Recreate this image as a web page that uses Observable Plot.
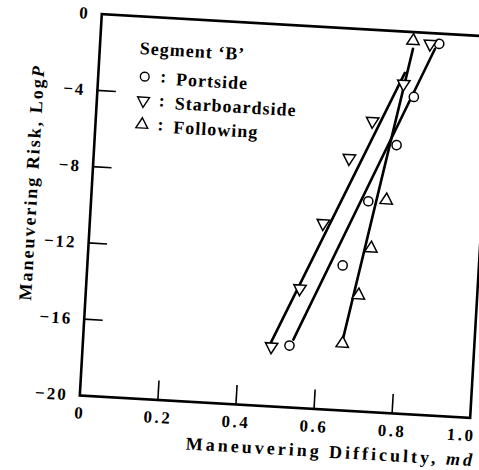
<!DOCTYPE html>
<html>
<head>
<meta charset="utf-8">
<script src="https://cdn.jsdelivr.net/npm/d3@7"></script>
<script src="https://cdn.jsdelivr.net/npm/@observablehq/plot@0.6"></script>
<style>
  html, body { margin: 0; padding: 0; background: #fff; overflow: hidden; width: 479px; height: 470px; }
  #chart { position: relative; width: 479px; height: 470px; overflow: hidden; }
</style>
</head>
<body>
<div id="chart"></div>
<script>
// ---- data ----
const seriesNames = ["Portside", "Starboardside", "Following"];

const portMd   = [0.866, 0.809, 0.772, 0.708, 0.652, 0.528];
const portLogP = [-0.54, -3.39, -5.96, -8.98, -12.41, -16.76];

const starMd   = [0.843, 0.781, 0.707, 0.653, 0.596, 0.546, 0.482];
const starLogP = [-0.57, -2.74, -4.78, -6.79, -10.27, -13.75, -16.87];

const followMd   = [0.799, 0.754, 0.722, 0.697, 0.663];
const followLogP = [-0.46, -8.87, -11.43, -13.92, -16.49];

// fitted straight lines (end points)
const portFitMd     = [0.537, 0.856];
const portFitLogP   = [-16.44, -0.81];
const starFitMd     = [0.479, 0.7825];
const starFitLogP   = [-16.72, -2.16];
const followFitMd   = [0.6625, 0.7997];
const followFitLogP = [-16.38, -0.88];

const xTickValues = [0, 0.2, 0.4, 0.6, 0.8, 1.0];
const yTickValues = [0, -4, -8, -12, -16, -20];
const xInnerTicks = [0.2, 0.4, 0.6, 0.8];
const yInnerTicks = [-4, -8, -12, -16];

const legendTitle = "Segment \u2018B\u2019";
const xTitleParts = ["Maneuvering Difficulty, ", "md"];
const yTitleParts = ["Maneuvering Risk, Log", "P"];

// ---- build tables ----
const zip = (xs, ys, s) => xs.map((x, i) => ({md: x, logP: ys[i], series: s}));
const points = [
  ...zip(portMd, portLogP, seriesNames[0]),
  ...zip(starMd, starLogP, seriesNames[1]),
  ...zip(followMd, followLogP, seriesNames[2])
];
const fits = [
  zip(portFitMd, portFitLogP, seriesNames[0]),
  zip(starFitMd, starFitLogP, seriesNames[1]),
  zip(followFitMd, followFitLogP, seriesNames[2])
];
const symbolOf = {Portside: "circle", Starboardside: "triangle", Following: "triangle"};
const rotateOf = {Portside: 0, Starboardside: 180, Following: 0};

// ---- layout ----
const W = 520, H = 480;
const mL = 88, mT = 23, mR = 41, mB = 75;
const fw = W - mL - mR, fh = H - mT - mB;
const font = "'Liberation Serif', 'DejaVu Serif', serif";

const marks = [
  Plot.frame({stroke: "black", strokeWidth: 2.6}),
  Plot.tickX(xInnerTicks, {x: d => d, insetTop: fh - 19, stroke: "black", strokeWidth: 1.6}),
  Plot.tickY(yInnerTicks, {y: d => d, insetRight: fw - 19, stroke: "black", strokeWidth: 1.6}),
  Plot.axisX({ticks: xTickValues, tickSize: 0, tickPadding: 11, label: null, dx: 1,
    tickFormat: d => d === 0 ? "0" : d.toFixed(1), fontSize: 17, fontWeight: "bold"}),
  Plot.axisY({ticks: yTickValues, tickSize: 0, tickPadding: 12, label: null,
    tickFormat: d => d === 0 ? "0" : "\u2212" + Math.abs(d), fontSize: 17, fontWeight: "bold"}),
  ...fits.map(f => Plot.line(f, {x: "md", y: "logP", stroke: "black", strokeWidth: 2.6})),
  ...seriesNames.map(s => Plot.dot(points.filter(p => p.series === s), {
    x: "md", y: "logP", symbol: symbolOf[s], rotate: rotateOf[s], r: 4.6,
    fill: "white", stroke: "black", strokeWidth: 1.5
  })),
  // legend
  Plot.text([legendTitle], {frameAnchor: "top-left", dx: 40, dy: 32, textAnchor: "start",
    lineAnchor: "middle", fontSize: 18, fontWeight: "bold"}),
  ...seriesNames.flatMap((s, i) => [
    Plot.dot([s], {frameAnchor: "top-left", dx: 46.5, dy: 60 + 24 * i, symbol: symbolOf[s],
      rotate: rotateOf[s], r: 4.4, fill: "white", stroke: "black", strokeWidth: 1.4}),
    Plot.text([":"], {frameAnchor: "top-left", dx: 65, dy: 59 + 24 * i, textAnchor: "middle",
      lineAnchor: "middle", fontSize: 18, fontWeight: "bold"}),
    Plot.text([s], {frameAnchor: "top-left", dx: 78, dy: 61 + 24 * i, textAnchor: "start",
      lineAnchor: "middle", fontSize: 18, fontWeight: "bold"})
  ]),
  // axis titles
  Plot.text([xTitleParts.join("")], {frameAnchor: "bottom", dx: 58, dy: 42, textAnchor: "middle",
    lineAnchor: "middle", fontSize: 18, fontWeight: "bold"}),
  Plot.text([yTitleParts.join("")], {frameAnchor: "left", dx: -60, dy: -19, rotate: -90,
    textAnchor: "middle", lineAnchor: "middle", fontSize: 18, fontWeight: "bold"})
];

const svg = Plot.plot({
  width: W, height: H,
  marginLeft: mL, marginTop: mT, marginRight: mR, marginBottom: mB,
  x: {domain: [0, 1]},
  y: {domain: [-20, 0]},
  style: {fontFamily: font, fontWeight: "bold", fontSize: "17px", color: "black", background: "white"},
  marks
});

// letter spacing & italics
const ns = "http://www.w3.org/2000/svg";
function italicTail(el, parts, spacing) {
  el.textContent = "";
  const a = document.createElementNS(ns, "tspan"); a.textContent = parts[0];
  const b = document.createElementNS(ns, "tspan"); b.textContent = parts[1];
  b.setAttribute("font-style", "italic");
  el.appendChild(a); el.appendChild(b);
  el.style.letterSpacing = spacing;
}
svg.querySelectorAll("text").forEach(t => {
  const c = t.textContent;
  if (c === xTitleParts.join("")) italicTail(t, xTitleParts, "3px");
  else if (c === yTitleParts.join("")) italicTail(t, yTitleParts, "2px");
  else if (seriesNames.includes(c) || c === legendTitle) t.style.letterSpacing = "1px";
});
svg.querySelectorAll('g[aria-label="x-axis tick label"] text').forEach(t => {
  t.style.letterSpacing = "2.5px";
  if (t.textContent === "1.0") t.setAttribute("x", "-9");  // last label sits left of the corner
});
svg.querySelectorAll('g[aria-label="y-axis tick label"] text').forEach(t => t.style.letterSpacing = "2px");

svg.style.maxWidth = "none";
svg.style.display = "block";
svg.style.transformOrigin = "283.5px 214px";
svg.style.transform = "translate(2px, 1.5px) rotate(3.3deg)";
document.getElementById("chart").appendChild(svg);
</script>
</body>
</html>
